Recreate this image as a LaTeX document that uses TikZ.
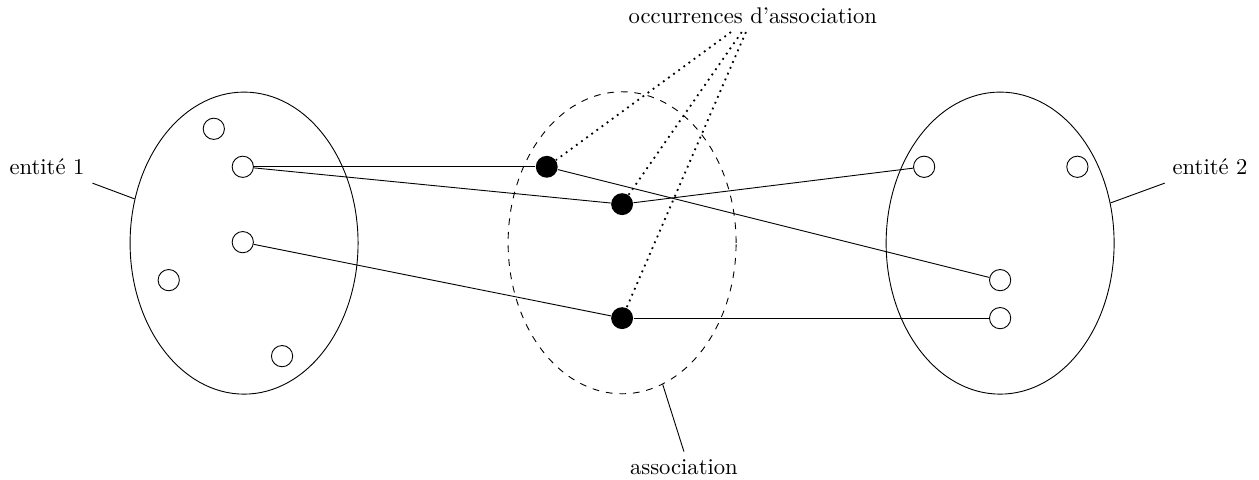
\documentclass[tikz,border=0pt]{standalone}
\usepackage{xcolor}
\usetikzlibrary{positioning,shapes.geometric}

\begin{document}
\begin{tikzpicture}[
  elem/.style={circle, draw, minimum size=0.33cm, inner sep=0pt},
  occdot/.style={circle, fill=black, minimum size=0.34cm, inner sep=0pt},
  setshape/.style={ellipse, draw, minimum width=3.54cm, minimum height=4.69cm, inner sep=0pt}]
  \useasboundingbox (0,0) rectangle (19.55,7.44);
  \node[setshape] (ent1) at (3.79,3.665) {};
  \node[setshape, dashed] (assoc) at (9.66,3.67) {};
  \node[setshape] (ent2) at (15.53,3.665) {};
  \node[elem] (a1) at (3.32,5.44) {};
  \node[elem] (a2) at (3.77,4.85) {};
  \node[elem] (a3) at (3.77,3.68) {};
  \node[elem] (a4) at (2.62,3.09) {};
  \node[elem] (a5) at (4.38,1.91) {};
  \node[elem] (b1) at (14.35,4.85) {};
  \node[elem] (b2) at (16.73,4.85) {};
  \node[elem] (b3) at (15.53,3.09) {};
  \node[elem] (b4) at (15.53,2.50) {};
  \node[occdot] (d1) at (8.49,4.85) {};
  \node[occdot] (d2) at (9.66,4.27) {};
  \node[occdot] (d3) at (9.66,2.50) {};
  \draw (a2) -- (d1);
  \draw (a2) -- (d2);
  \draw (a3) -- (d3);
  \draw (d1) -- (b3);
  \draw (d2) -- (b1);
  \draw (d3) -- (b4);
  \node (occ) at (11.69,7.19) {occurrences d’association};
  \draw[thick, dotted] (occ) -- (d1);
  \draw[thick, dotted] (occ) -- (d2);
  \draw[thick, dotted] (occ) -- (d3);
  \node (lbl1) at (0.73,4.845) {entité 1};
  \draw (lbl1.south east) -- (ent1.158);
  \node (lbl2) at (18.79,4.845) {entité 2};
  \draw (lbl2.south west) -- (ent2.20);
  \node (lblA) at (10.62,0.186) {association};
  \draw (assoc.-74) -- (lblA.north);
\end{tikzpicture}
\end{document}
